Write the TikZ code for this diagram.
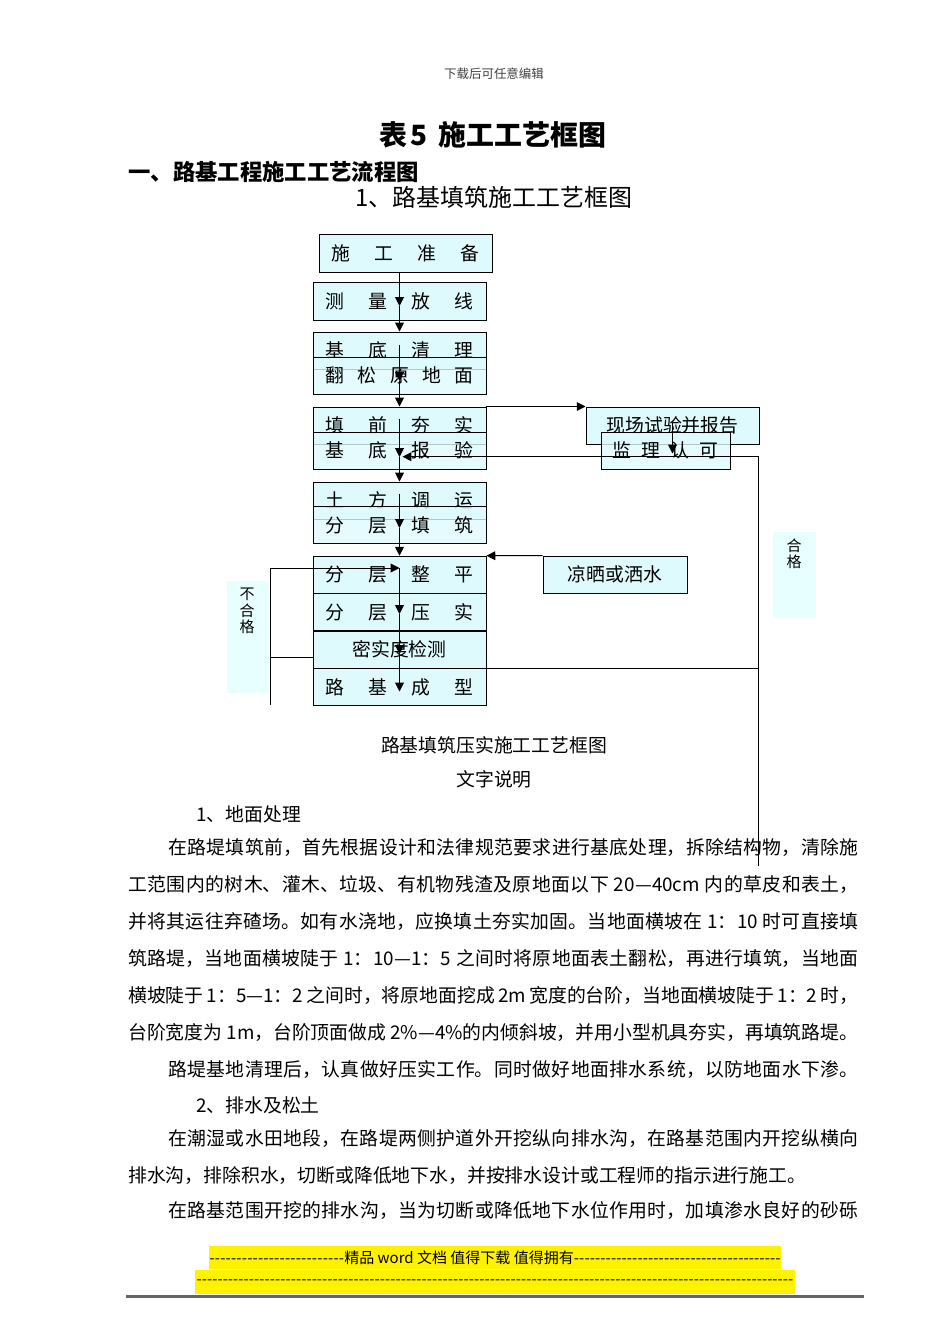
\documentclass[tikz,border=0pt]{standalone}
\usepackage{fontspec}
\setmainfont{Noto Sans CJK SC}
\usetikzlibrary{arrows.meta}
\usepackage{xcolor}
\definecolor{boxcyan}{RGB}{222,250,252}
\definecolor{tagcyan}{RGB}{232,255,255}
\definecolor{rulegray}{RGB}{100,100,100}
\XeTeXlinebreaklocale "zh"
\XeTeXlinebreakskip=0pt plus 1pt
\newcommand{\spreadfour}[1]{\makebox[93pt]{#1}}
\tikzset{
  stepbox/.style={draw,fill=boxcyan,line width=0.6pt,minimum width=108.4pt,minimum height=23.2pt,inner sep=0pt,font=\fontsize{11.8pt}{14pt}\selectfont},
  overbox/.style={stepbox,fill opacity=0.8,text opacity=1},
  tagbox/.style={fill=tagcyan,inner sep=0pt},
  flow/.style={line width=0.6pt,-{Triangle[width=5.5pt,length=5.5pt]}},
  wire/.style={line width=0.6pt},
  textline/.style={inner sep=0pt,font=\fontsize{11.8pt}{14pt}\selectfont},
  tagtext/.style={inner sep=0pt,align=center,font=\fontsize{9.4pt}{10.2pt}\selectfont},
  para/.style={anchor=north west,inner sep=0pt,text width=457.4pt,align=justify,font=\fontsize{11.8pt}{23.18pt}\selectfont}
}

\begin{document}
\begin{tikzpicture}[x=0.6266pt,y=-0.6266pt]
  \useasboundingbox (0,0) rectangle (950,1344);
  \node[anchor=base,inner sep=0pt,font=\fontsize{7.8pt}{9pt}\selectfont,text=black!75] (hint) at (494,78.5) {下载后可任意编辑};
  \node[anchor=base,inner sep=0pt,font=\fontsize{17.5pt}{20pt}\selectfont\bfseries] (title) at (493,145.5) {表\hspace{2pt}5\hspace{7pt}施工工艺框图};
  \node[anchor=base west,inner sep=0pt,font=\fontsize{14pt}{16pt}\selectfont\bfseries] (part) at (128,180.5) {一、路基工程施工工艺流程图};
  \node[anchor=base,inner sep=0pt,font=\fontsize{15pt}{18pt}\selectfont] (sub) at (494,206) {1、路基填筑施工工艺框图};

  \node[stepbox,minimum height=23.8pt] (prep) at (405.5,253) {\spreadfour{施\hfill 工\hfill 准\hfill 备}};
  \node[stepbox,minimum height=23.8pt] (survey) at (399.5,301) {\spreadfour{测\hfill 量\hfill 放\hfill 线}};
  \node[stepbox] (clear) at (399.5,350.5) {\spreadfour{基\hfill 底\hfill 清\hfill 理}};
  \node[overbox] (loosen) at (399.5,375.5) {\spreadfour{翻\hfill 松\hfill 原\hfill 地\hfill 面}};
  \node[stepbox] (tamp) at (399.5,425.5) {\spreadfour{填\hfill 前\hfill 夯\hfill 实}};
  \node[overbox] (check) at (399.5,450.5) {\spreadfour{基\hfill 底\hfill 报\hfill 验}};
  \node[stepbox] (haul) at (399.5,500.5) {\spreadfour{土\hfill 方\hfill 调\hfill 运}};
  \node[overbox] (fill) at (399.5,525) {\spreadfour{分\hfill 层\hfill 填\hfill 筑}};
  \node[stepbox] (level) at (399.5,574.7) {\spreadfour{分\hfill 层\hfill 整\hfill 平}};
  \node[stepbox] (roll) at (399.5,612) {\spreadfour{分\hfill 层\hfill 压\hfill 实}};
  \node[stepbox] (dense) at (399.5,649.7) {密实度检测};
  \node[stepbox] (done) at (399.5,687) {\spreadfour{路\hfill 基\hfill 成\hfill 型}};
  \node[stepbox] (test) at (672.5,425.5) {现场试验并报告};
  \node[overbox,minimum width=80.8pt] (super) at (665.5,450.5) {\makebox[66.4pt]{监\hfill 理\hfill 认\hfill 可}};
  \node[stepbox,minimum width=90.2pt] (dry) at (615,574.5) {凉晒或洒水};
  \node[tagbox,minimum width=26.9pt,minimum height=53.9pt] (passbox) at (794.5,575) {};
  \node[tagtext] (pass) at (794,554) {合\\格};
  \node[tagbox,minimum width=26.3pt,minimum height=70.2pt] (failbox) at (248,637) {};
  \node[tagtext] (fail) at (247,611) {不\\合\\格};

  \coordinate (t1) at (399.5,306);
  \coordinate (s2) at (399.5,345);
  \coordinate (t2) at (399.5,381);
  \coordinate (s3) at (399.5,419);
  \coordinate (t3) at (399.5,457);
  \coordinate (s4) at (399.5,494);
  \coordinate (t4) at (399.5,528);
  \coordinate (s5) at (399.5,568);
  \coordinate (t5) at (399.5,614);
  \coordinate (t6) at (399.5,654);
  \coordinate (t7) at (399.5,691.5);
  \draw[flow] (prep.south -| t1) -- (t1);
  \draw[flow] (t1) -- (clear.north);
  \draw[flow] (s2) -- (t2);
  \draw[flow] (t2) -- (tamp.north);
  \draw[flow] (s3) -- (t3);
  \draw[flow] (t3) -- (haul.north);
  \draw[flow] (s4) -- (t4);
  \draw[flow] (t4) -- (level.north);
  \draw[flow] (s5) -- (t5);
  \draw[flow] (t5) -- (t6);
  \draw[flow] (t6) -- (t7);

  \coordinate (u1) at (672.5,421.5);
  \coordinate (u2) at (672.5,453.5);
  \coordinate (rtop) at (758.5,456.7);
  \coordinate (rbot) at (758.5,866);
  \coordinate (back) at (402.5,456.7);
  \draw[flow] (tamp.north east) -- (test.north west);
  \draw[flow] (u1) -- (u2);
  \draw[flow] (rbot) -- (rtop) -- (back);
  \draw[wire] (dense.south east) -- (dense.south east -| rtop);
  \draw[flow] (dry.north west) -- (level.north east);

  \coordinate (lbot) at (270,705);
  \coordinate (ltop) at (270,568);
  \coordinate (ljoin) at (270,657);
  \draw[wire] (dense.west |- ljoin) -- (ljoin);
  \draw[flow] (lbot) -- (ltop) -- (s5);

  \node[textline,anchor=base] (cap) at (494,752) {路基填筑压实施工工艺框图};
  \node[textline,anchor=base] (note) at (494,786) {文字说明};
  \node[textline,anchor=base west] (h1) at (196,821) {1、地面处理};
  \node[para] (p1) at (128,838) {\noindent\hspace*{25pt}在路堤填筑前，首先根据设计和法律规范要求进行基底处理，拆除结构物，清除施\linebreak
    工范围内的树木、灌木、垃圾、有机物残渣及原地面以下 20—40cm 内的草皮和表土，\linebreak
    并将其运往弃碴场。如有水浇地，应换填土夯实加固。当地面横坡在 1：10 时可直接填\linebreak
    筑路堤，当地面横坡陡于 1：10—1：5 之间时将原地面表土翻松，再进行填筑，当地面\linebreak
    横坡陡于 1：5—1：2 之间时，将原地面挖成 2m 宽度的台阶，当地面横坡陡于 1：2 时，\linebreak
    台阶宽度为 1m，台阶顶面做成 2\%—4\%的内倾斜坡，并用小型机具夯实，再填筑路堤。};
  \node[para] (p2) at (128,1060) {\noindent\hspace*{25pt}路堤基地清理后，认真做好压实工作。同时做好地面排水系统，以防地面水下渗。\linebreak};
  \node[textline,anchor=base west] (h2) at (196,1112) {2、排水及松土};
  \node[para] (p3) at (128,1129) {\noindent\hspace*{25pt}在潮湿或水田地段，在路堤两侧护道外开挖纵向排水沟，在路基范围内开挖纵横向\linebreak
    排水沟，排除积水，切断或降低地下水，并按排水设计或工程师的指示进行施工。};
  \node[para] (p4) at (128,1201) {\noindent\hspace*{25pt}在路基范围开挖的排水沟，当为切断或降低地下水位作用时，加填渗水良好的砂砾\linebreak};

  \node[fill=yellow,inner sep=0pt,minimum width=358.4pt,minimum height=14.4pt,font=\fontsize{9.4pt}{11pt}\selectfont] (foot1) at (495,1257.5) {\makebox[358pt]{\xleaders\hbox{-}\hskip 84.6pt\relax 精品 word 文档 值得下载 值得拥有\xleaders\hbox{-}\hfill}};
  \node[fill=yellow,inner sep=0pt,minimum width=376pt,minimum height=15pt,font=\fontsize{9.4pt}{11pt}\selectfont] (foot2) at (495,1282) {\makebox[374pt]{\xleaders\hbox{-}\hfill}};
  \draw[rulegray,line width=1.3pt] (126,1296.5) -- (863.5,1296.5);
\end{tikzpicture}
\end{document}
